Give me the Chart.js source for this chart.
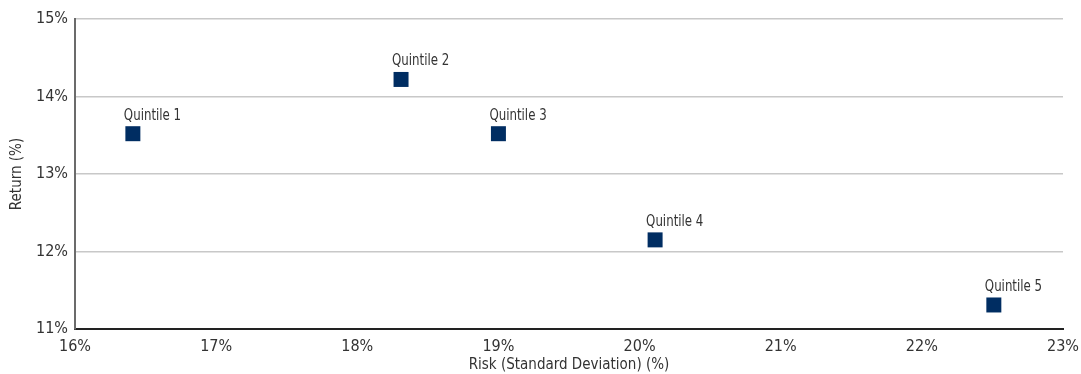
<!DOCTYPE html>
<html>
<head>
<meta charset="utf-8">
<script src="https://cdn.jsdelivr.net/npm/chart.js@4.4.1/dist/chart.umd.min.js"></script>
<style>
  html, body { margin: 0; padding: 0; background: #fff; }
  #wrap { width: 1081px; height: 374px; position: relative; }
</style>
</head>
<body>
<div id="wrap"><canvas id="riskChart"></canvas></div>
<script>
// --- Data ---
const quintiles = ['Quintile 1', 'Quintile 2', 'Quintile 3', 'Quintile 4', 'Quintile 5'];
const riskValues = [16.41, 18.31, 19.00, 20.11, 22.51];   // x: standard deviation (%)
const returnValues = [13.52, 14.22, 13.52, 12.15, 11.31]; // y: return (%)

const FONT = '"DejaVu Sans Condensed", "Liberation Sans Narrow", "Roboto", sans-serif';
const TEXT = '#333333';
const NAVY = '#002d62';

// labels above each square, left-aligned to the marker (squeezed a bit, the original font is condensed)
const pointLabels = {
    id: 'pointLabels',
    afterDatasetsDraw(chart) {
        const ctx = chart.ctx;
        const meta = chart.getDatasetMeta(0);
        const squeeze = 0.82;
        ctx.save();
        ctx.font = '16px ' + FONT;
        ctx.fillStyle = TEXT;
        ctx.textAlign = 'left';
        ctx.textBaseline = 'alphabetic';
        meta.data.forEach((pt, i) => {
            ctx.save();
            ctx.translate(pt.x - 9, pt.y - 14);
            ctx.scale(squeeze, 1);
            ctx.fillText(quintiles[i], 0, 0);
            ctx.restore();
        });
        ctx.restore();
    }
};

const ctx = document.getElementById('riskChart').getContext('2d');
new Chart(ctx, {
    type: 'scatter',
    data: {
        datasets: [{
            label: 'Quintiles',
            data: riskValues.map((x, i) => ({ x: x, y: returnValues[i] })),
            backgroundColor: NAVY,
            borderWidth: 0,
            pointStyle: 'rect',
            pointRadius: 10.6,
            pointHoverRadius: 10.6
        }]
    },
    options: {
        responsive: true,
        maintainAspectRatio: false,
        animation: false,
        layout: { padding: { top: 19, right: 18, left: 0, bottom: 0 } },
        plugins: {
            legend: { display: false },
            tooltip: { enabled: false }
        },
        scales: {
            x: {
                type: 'linear',
                min: 16,
                max: 23,
                afterFit(scale) {
                    scale.height = 45;
                    scale.paddingLeft = 0;
                    scale.paddingRight = 0;
                },
                grid: { display: false, drawTicks: false },
                border: { color: '#222222', width: 2 },
                ticks: {
                    stepSize: 1,
                    padding: 8,
                    color: TEXT,
                    font: { family: FONT, size: 16 },
                    callback: v => v + '%'
                },
                title: {
                    display: true,
                    text: 'Risk (Standard Deviation) (%)',
                    color: TEXT,
                    font: { family: FONT, size: 15 },
                    padding: { top: 0, bottom: 0 }
                }
            },
            y: {
                min: 11,
                max: 15,
                afterFit(scale) { scale.width = 75; },
                grid: { color: '#c8c8c8', lineWidth: 1.5, drawTicks: false },
                border: { color: '#6b6b6b', width: 2 },
                ticks: {
                    stepSize: 1,
                    padding: 7,
                    color: TEXT,
                    font: { family: FONT, size: 16 },
                    callback: v => v + '%'
                },
                title: {
                    display: true,
                    text: 'Return (%)',
                    color: TEXT,
                    font: { family: FONT, size: 15 },
                    padding: { top: 8, bottom: 0 }
                }
            }
        }
    },
    plugins: [pointLabels]
});
</script>
</body>
</html>
